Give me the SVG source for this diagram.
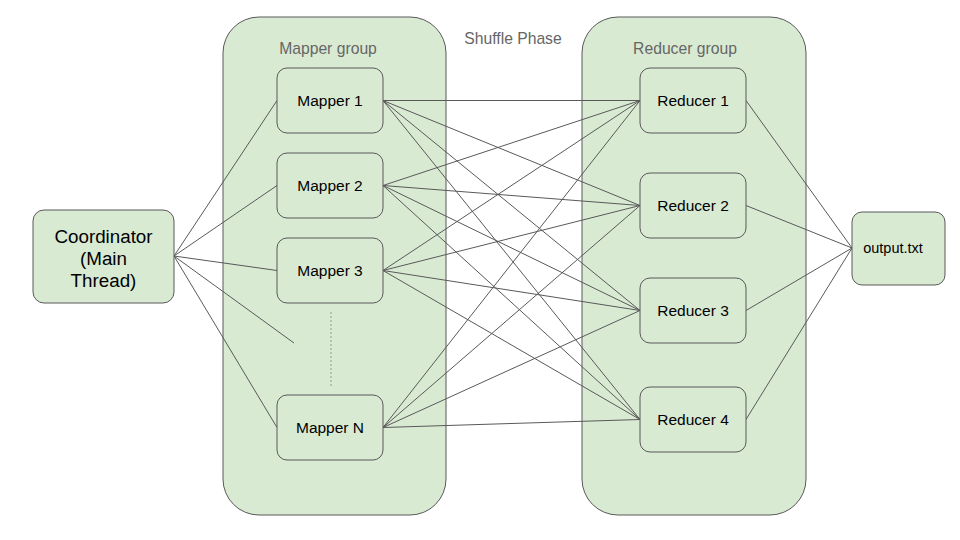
<svg xmlns="http://www.w3.org/2000/svg" width="960" height="540" viewBox="0 0 960 540">
<style>
.grp{fill:#d9ead3;stroke:#595959;stroke-width:1}
.box{fill:#d9ead3;stroke:#595959;stroke-width:1}
.lbl{font-family:"Liberation Sans",Arial,sans-serif;font-size:15.5px;fill:#000;text-anchor:middle}
.glbl{font-family:"Liberation Sans",Arial,sans-serif;font-size:15.7px;fill:#666;text-anchor:middle}
.big{font-family:"Liberation Sans",Arial,sans-serif;font-size:18.8px;fill:#000;text-anchor:middle}
.ln{stroke:#595959;stroke-width:1;fill:none}
</style>
<rect width="960" height="540" fill="#fff"/>
<g id="mapper-group"><rect class="grp" x="223" y="17" width="223" height="498" rx="36"/><text class="glbl" x="328" y="54">Mapper group</text></g>
<g id="reducer-group"><rect class="grp" x="582" y="17" width="224" height="498" rx="36"/><text class="glbl" x="685" y="54">Reducer group</text></g>
<g id="shuffle-label"><text class="glbl" x="513" y="44">Shuffle Phase</text></g>
<g id="connectors">
<line class="ln" x1="174" y1="256" x2="277" y2="100.5"/>
<line class="ln" x1="174" y1="256" x2="277" y2="185.5"/>
<line class="ln" x1="174" y1="256" x2="277" y2="270.5"/>
<line class="ln" x1="174" y1="256" x2="294" y2="343"/>
<line class="ln" x1="174" y1="256" x2="277" y2="427.5"/>
<line x1="331" y1="312" x2="331" y2="386" stroke="#999" stroke-width="1" stroke-dasharray="2,2"/>
<line class="ln" x1="383" y1="100.5" x2="640" y2="100.5"/>
<line class="ln" x1="383" y1="100.5" x2="640" y2="205.5"/>
<line class="ln" x1="383" y1="100.5" x2="640" y2="310.5"/>
<line class="ln" x1="383" y1="100.5" x2="640" y2="419.5"/>
<line class="ln" x1="383" y1="185.5" x2="640" y2="100.5"/>
<line class="ln" x1="383" y1="185.5" x2="640" y2="205.5"/>
<line class="ln" x1="383" y1="185.5" x2="640" y2="310.5"/>
<line class="ln" x1="383" y1="185.5" x2="640" y2="419.5"/>
<line class="ln" x1="383" y1="270.5" x2="640" y2="100.5"/>
<line class="ln" x1="383" y1="270.5" x2="640" y2="205.5"/>
<line class="ln" x1="383" y1="270.5" x2="640" y2="310.5"/>
<line class="ln" x1="383" y1="270.5" x2="640" y2="419.5"/>
<line class="ln" x1="383" y1="427.5" x2="640" y2="100.5"/>
<line class="ln" x1="383" y1="427.5" x2="640" y2="205.5"/>
<line class="ln" x1="383" y1="427.5" x2="640" y2="310.5"/>
<line class="ln" x1="383" y1="427.5" x2="640" y2="419.5"/>
<line class="ln" x1="746" y1="100.5" x2="852" y2="248"/>
<line class="ln" x1="746" y1="205.5" x2="852" y2="248"/>
<line class="ln" x1="746" y1="310.5" x2="852" y2="248"/>
<line class="ln" x1="746" y1="419.5" x2="852" y2="248"/>
</g>
<g id="coordinator"><rect class="box" x="33" y="210" width="141" height="93" rx="11"/><text class="big" x="103.5" y="243">Coordinator</text><text class="big" x="103.5" y="265">(Main</text><text class="big" x="103.5" y="287">Thread)</text></g>
<g id="mapper1"><rect class="box" x="277" y="68" width="106" height="65" rx="10"/><text class="lbl" x="330" y="106">Mapper 1</text></g>
<g id="mapper2"><rect class="box" x="277" y="153" width="106" height="65" rx="10"/><text class="lbl" x="330" y="191">Mapper 2</text></g>
<g id="mapper3"><rect class="box" x="277" y="238" width="106" height="65" rx="10"/><text class="lbl" x="330" y="276">Mapper 3</text></g>
<g id="mapperN"><rect class="box" x="277" y="395" width="106" height="65" rx="10"/><text class="lbl" x="330" y="433">Mapper N</text></g>
<g id="reducer1"><rect class="box" x="640" y="68" width="106" height="65" rx="10"/><text class="lbl" x="693" y="106">Reducer 1</text></g>
<g id="reducer2"><rect class="box" x="640" y="173" width="106" height="65" rx="10"/><text class="lbl" x="693" y="211">Reducer 2</text></g>
<g id="reducer3"><rect class="box" x="640" y="278" width="106" height="65" rx="10"/><text class="lbl" x="693" y="316">Reducer 3</text></g>
<g id="reducer4"><rect class="box" x="640" y="387" width="106" height="65" rx="10"/><text class="lbl" x="693" y="425">Reducer 4</text></g>
<g id="output"><rect class="box" x="852" y="212" width="93" height="73" rx="10"/><text class="lbl" x="893" y="253" style="font-size:14.5px">output.txt</text></g>
</svg>
